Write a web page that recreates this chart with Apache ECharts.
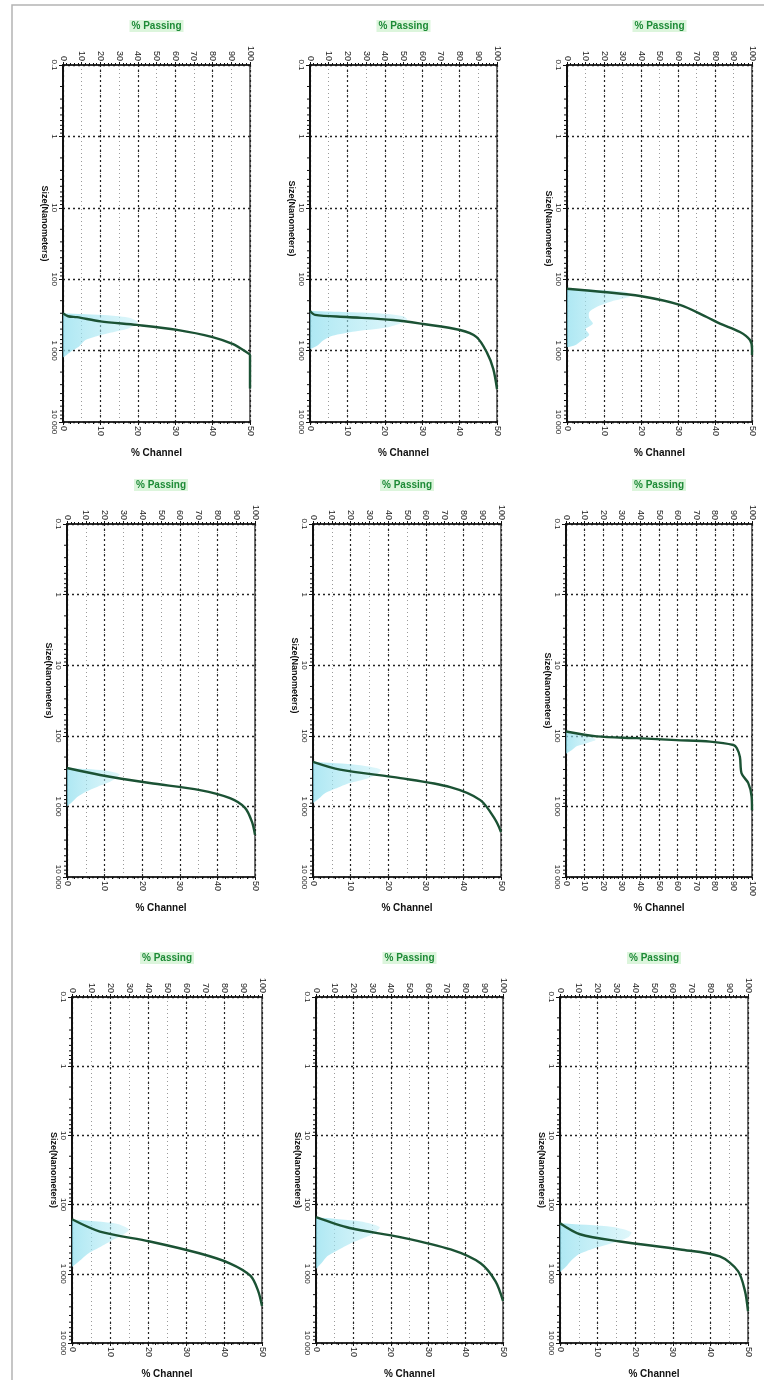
<!DOCTYPE html>
<html>
<head>
<meta charset="utf-8">
<script src="https://cdn.jsdelivr.net/npm/echarts@6.0.0/dist/echarts.min.js"></script>
<style>
  html, body { margin: 0; padding: 0; background: #fff; }
  #chart { width: 764px; height: 1380px; }
</style>
</head>
<body>
<div id="chart"></div>
<script>
// Tick labels
const sizeTickLabels = ['0.1', '1', '10', '100', '1 000', '10 000'];
const sizeMinorTicks = [0.2, 0.3, 0.4, 0.5, 0.6, 0.7, 0.8, 0.9,
  2, 3, 4, 5, 6, 7, 8, 9, 20, 30, 40, 50, 60, 70, 80, 90,
  200, 300, 400, 500, 600, 700, 800, 900, 2000, 3000, 4000, 5000, 6000, 7000, 8000, 9000];
const passingTickLabels = ['0', '10', '20', '30', '40', '50', '60', '70', '80', '90', '100'];
// Full scale of the "% Channel" axis for each sample
const channelMax = [50, 50, 50, 50, 50, 100, 50, 50, 50];

// Sample 1
const s1Passing = [0, 2.7, 7.5, 20, 39.5, 61, 80, 91, 98, 100, 100];
const s1Size = [300, 330, 340, 390, 437, 512, 646, 814, 1050, 1160, 3400];
const s1HistSize = [300, 320, 350, 400, 450, 500, 560, 630, 710, 800, 900, 1000, 1150, 1250];
const s1HistChannel = [0, 12, 18, 20, 19, 17, 13, 9, 6, 5, 4, 2.5, 1, 0];

// Sample 2
const s2Passing = [0, 2.7, 19.6, 44.6, 60.6, 80.2, 89.1, 94.5, 98, 100];
const s2Size = [279, 316, 338, 372, 424, 515, 646, 1050, 1800, 3460];
const s2HistSize = [279, 300, 330, 370, 420, 480, 540, 620, 720, 850, 960];
const s2HistChannel = [0, 18, 25, 26, 24, 20, 12, 6, 3.5, 2, 0];

// Sample 3
const s3Passing = [0, 19.6, 39.5, 61, 75.5, 82.7, 93.5, 98.9, 100, 100];
const s3Size = [136, 151, 172, 229, 338, 419, 550, 712, 935, 1150];
const s3HistSize = [136, 150, 175, 205, 245, 290, 350, 420, 500, 600, 720, 850, 900];
const s3HistChannel = [0, 16, 17, 12, 8, 6, 6, 7, 5, 6, 4, 2, 0];

// Sample 4
const s4Passing = [0, 17.6, 44, 70.7, 86.7, 94.7, 98.4, 100];
const s4Size = [286, 359, 467, 588, 765, 1050, 1660, 2530];
const s4HistSize = [286, 310, 350, 400, 460, 530, 620, 720, 850, 1000];
const s4HistChannel = [0, 10, 14, 13, 11, 8, 5, 3, 1.5, 0];

// Sample 5
const s5Passing = [0, 14.4, 46.5, 73, 89, 97, 100];
const s5Size = [234, 302, 397, 533, 815, 1550, 2300];
const s5HistSize = [234, 260, 300, 350, 410, 480, 560, 660, 780, 900];
const s5HistChannel = [0, 12, 18, 17, 14, 9, 6, 3, 1.5, 0];

// Sample 6
const s6Passing = [0, 16.5, 38, 59.5, 77.4, 90, 91.8, 93.5, 94.4, 98, 99.8, 100];
const s6Size = [87, 102, 108, 115, 121, 135, 149, 199, 341, 468, 727, 1130];
const s6HistSize = [87, 95, 105, 115, 125, 140, 160, 180];
const s6HistChannel = [0, 8, 14, 16, 12, 6, 3, 0];

// Sample 7
const s7Passing = [0, 14.7, 41, 67, 83, 94, 98, 100];
const s7Size = [163, 245, 341, 505, 705, 1075, 1780, 2930];
const s7HistSize = [163, 190, 230, 280, 340, 420, 520, 650, 800];
const s7HistChannel = [0, 12, 15, 13, 10, 7, 4, 2, 0];

// Sample 8
const s8Passing = [0, 18, 45, 72, 88, 96, 100];
const s8Size = [152, 218, 295, 445, 705, 1290, 2470];
const s8HistSize = [152, 175, 210, 250, 300, 370, 450, 560, 700, 850];
const s8HistChannel = [0, 12, 17, 16, 13, 9, 6, 3, 1.5, 0];

// Sample 9
const s9Passing = [0, 10.6, 32, 64, 85, 94.7, 98.4, 100];
const s9Size = [186, 268, 341, 445, 562, 915, 1780, 3470];
const s9HistSize = [186, 210, 250, 300, 360, 430, 520, 640, 800, 950];
const s9HistChannel = [0, 14, 19, 18, 14, 9, 5, 3, 1.5, 0];

const samples = [
  [s1Passing, s1Size, s1HistSize, s1HistChannel],
  [s2Passing, s2Size, s2HistSize, s2HistChannel],
  [s3Passing, s3Size, s3HistSize, s3HistChannel],
  [s4Passing, s4Size, s4HistSize, s4HistChannel],
  [s5Passing, s5Size, s5HistSize, s5HistChannel],
  [s6Passing, s6Size, s6HistSize, s6HistChannel],
  [s7Passing, s7Size, s7HistSize, s7HistChannel],
  [s8Passing, s8Size, s8HistSize, s8HistChannel],
  [s9Passing, s9Size, s9HistSize, s9HistChannel]
];

// Plot rectangles of the 3 x 3 panels (the scanned page is slightly skewed)
const panelRects = [
  [63, 65, 187, 357], [310, 65, 187, 357], [567, 65, 185, 357],
  [67, 524, 188, 353], [313, 524, 188, 353], [566, 524, 186, 353],
  [72, 997, 190, 346], [316, 997, 187, 346], [560, 997, 188, 346]
];
// shift of the size-axis title along the axis (rows 1-2 sit a bit high)
const sizeNamePad = [40, 50, 30, 40, 50, 20, 0, 0, 0];

const FONT = 'Liberation Sans, Arial, sans-serif';
const grid = [], xAxis = [], yAxis = [], series = [];

panelRects.forEach((r, i) => {
  grid.push({
    left: r[0], top: r[1], width: r[2], height: r[3],
    containLabel: false, outerBoundsMode: 'none',
    show: true, borderColor: '#111', borderWidth: 1.2, backgroundColor: 'transparent'
  });
  // top: cumulative % passing
  xAxis.push({
    gridIndex: i, type: 'value', position: 'top', min: 0, max: 100, interval: 10,
    name: '% Passing', nameLocation: 'middle', nameGap: 33, nameMoveOverlap: false,
    nameTextStyle: { color: '#1d8a36', fontWeight: 'bold', fontSize: 10, fontFamily: FONT,
      backgroundColor: '#dcf5dc', padding: [1, 2] },
    axisLine: { show: true, onZero: false, lineStyle: { color: '#111', width: 1.6 } },
    axisTick: { show: true, length: 3, lineStyle: { color: '#111', width: 1 } },
    minorTick: { show: true, splitNumber: 5, length: 2, lineStyle: { color: '#111', width: 1 } },
    axisLabel: { rotate: 90, fontSize: 9, color: '#222', margin: 4, fontFamily: FONT,
      formatter: (v, idx) => passingTickLabels[idx] },
    splitLine: { show: true, lineStyle: { color: '#9a9a9a', type: [1, 3], width: 1 } }
  });
  // bottom: % channel (frequency)
  xAxis.push({
    gridIndex: i, type: 'value', position: 'bottom', min: 0, max: channelMax[i], interval: 10,
    name: '% Channel', nameLocation: 'middle', nameGap: 26, nameMoveOverlap: false,
    nameTextStyle: { color: '#111', fontWeight: 'bold', fontSize: 10, fontFamily: FONT },
    axisLine: { show: true, onZero: false, lineStyle: { color: '#111', width: 1.6 } },
    axisTick: { show: true, length: 3, lineStyle: { color: '#111', width: 1 } },
    minorTick: { show: true, splitNumber: 5, length: 2, lineStyle: { color: '#111', width: 1 } },
    axisLabel: { rotate: -90, fontSize: 9, color: '#222', margin: 4, fontFamily: FONT },
    splitLine: { show: true, lineStyle: { color: '#222', type: [2, 3], width: 1.2 } }
  });
  // left: particle size, log scale, growing downwards
  yAxis.push({
    gridIndex: i, type: 'log', logBase: 10, min: 0.1, max: 10000, inverse: true,
    name: 'Size(Nanometers)', nameLocation: 'middle', nameRotate: -90, nameGap: 14,
    nameMoveOverlap: false,
    nameTextStyle: { color: '#111', fontWeight: 'bold', fontSize: 9, fontFamily: FONT,
      padding: [0, sizeNamePad[i], 0, 0] },
    axisLine: { show: true, onZero: false, lineStyle: { color: '#111', width: 2 } },
    axisTick: { show: true, length: 4, lineStyle: { color: '#111', width: 1 } },
    minorTick: { show: false },
    axisLabel: { rotate: -90, fontSize: 8, color: '#222', margin: 5, fontFamily: FONT,
      formatter: (v, idx) => sizeTickLabels[idx] },
    splitLine: { show: true, lineStyle: { color: '#222', type: [2, 3], width: 1.3 } }
  });

  const [passing, size, hSize, hChan] = samples[i];
  // logarithmic minor ticks (2..9 of each decade) on the size axis
  series.push({
    type: 'custom', xAxisIndex: 2 * i, yAxisIndex: i, z: 4, clip: false, silent: true,
    data: sizeMinorTicks.map(v => [0, v]),
    renderItem: (params, api) => {
      const p = api.coord([0, api.value(1)]);
      return {
        type: 'line',
        shape: { x1: p[0] - 3, y1: p[1], x2: p[0], y2: p[1] },
        style: { stroke: '#111', lineWidth: 1 }
      };
    }
  });
  // channel histogram as a filled outline against the size axis
  series.push({
    type: 'custom', xAxisIndex: 2 * i + 1, yAxisIndex: i, z: 2, clip: true, silent: true,
    data: hSize.map((s, k) => [hChan[k], s]),
    renderItem: (params, api) => {
      if (params.dataIndex !== 0) return null;
      const pts = [api.coord([0, hSize[0]])];
      hSize.forEach((s, k) => pts.push(api.coord([hChan[k], s])));
      pts.push(api.coord([0, hSize[hSize.length - 1]]));
      return {
        type: 'polygon',
        shape: { points: pts, smooth: 0.25 },
        style: {
          fill: new echarts.graphic.LinearGradient(0, 0, 1, 0, [
            { offset: 0, color: 'rgba(140,222,238,0.7)' },
            { offset: 1, color: 'rgba(190,238,246,0.5)' }
          ])
        }
      };
    }
  });
  // cumulative % passing curve
  series.push({
    type: 'line', xAxisIndex: 2 * i, yAxisIndex: i, z: 3, clip: false,
    data: passing.map((p, k) => [p, size[k]]),
    smooth: 0.3, showSymbol: false, symbol: 'none',
    lineStyle: { color: '#1b5234', width: 2.4 },
    emphasis: { disabled: true }
  });
});

const chart = echarts.init(document.getElementById('chart'), null, { renderer: 'canvas' });
chart.setOption({
  animation: false,
  backgroundColor: '#fff',
  textStyle: { fontFamily: FONT },
  graphic: [{
    type: 'rect', silent: true,
    shape: { x: 12, y: 5, width: 760, height: 1390 },
    style: { fill: 'none', stroke: '#b4b4b4', lineWidth: 1.5 }
  }],
  grid, xAxis, yAxis, series
});
</script>
</body>
</html>
